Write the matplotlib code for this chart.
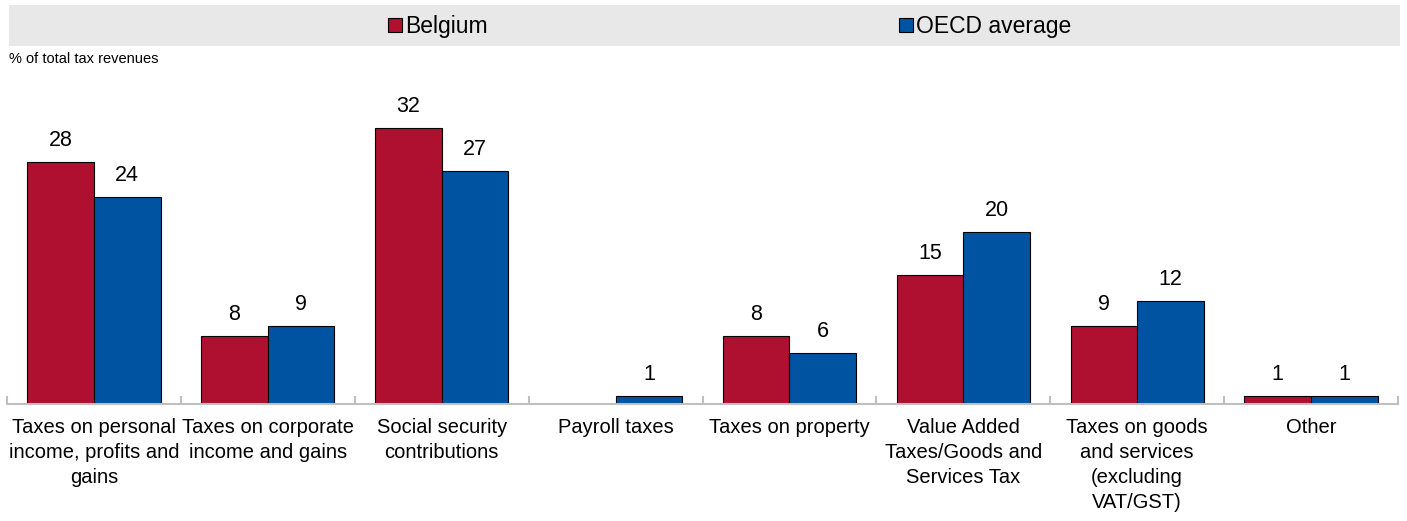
import matplotlib
matplotlib.use("Agg")
import matplotlib.pyplot as plt
from matplotlib.patches import Rectangle
import numpy as np

categories = ["Taxes on personal\nincome, profits and\ngains",
              "Taxes on corporate\nincome and gains",
              "Social security\ncontributions",
              "Payroll taxes",
              "Taxes on property",
              "Value Added\nTaxes/Goods and\nServices Tax",
              "Taxes on goods\nand services\n(excluding\nVAT/GST)",
              "Other"]
belgium = [28.0, 7.9, 32.0, 0.0, 7.9, 14.9, 9.0, 0.9]
oecd = [24.0, 9.0, 27.0, 0.9, 5.9, 19.9, 11.9, 0.9]
belgium_labels = ["28", "8", "32", "", "8", "15", "9", "1"]
oecd_labels = ["24", "9", "27", "1", "6", "20", "12", "1"]

plt.rcParams['font.family'] = ['Liberation Sans Narrow', 'Liberation Sans', 'DejaVu Sans']

W, H = 1407, 521
fig = plt.figure(figsize=(W/100, H/100), dpi=100)
left, right, bottom, top_px = 7, 1398, 404, 102
ax = fig.add_axes([left/W, (H-bottom)/H, (right-left)/W, (bottom-top_px)/H])

red = "#B0102F"
blue = "#0053A1"
x = np.arange(len(categories))
bw = 0.383
ax.bar(x - bw/2, belgium, bw, color=red, edgecolor="black", linewidth=0.8)
ax.bar(x + bw/2, oecd, bw, color=blue, edgecolor="black", linewidth=0.8)

for xi, v, lab in zip(x, belgium, belgium_labels):
    if lab:
        ax.text(xi - bw/2, v + 1.3, lab, ha="center", va="bottom", fontsize=15.5, clip_on=False)
for xi, v, lab in zip(x, oecd, oecd_labels):
    if lab:
        ax.text(xi + bw/2, v + 1.3, lab, ha="center", va="bottom", fontsize=15.5, clip_on=False)

ax.set_xlim(-0.5, len(categories) - 0.5)
ax.set_ylim(0, 35)
for s in ["top", "right", "left"]:
    ax.spines[s].set_visible(False)
ax.spines["bottom"].set_color("#BFBFBF")
ax.spines["bottom"].set_linewidth(1.5)
ax.set_yticks([])
ax.set_xticks(np.arange(len(categories) + 1) - 0.5)
ax.set_xticklabels([])
ax.tick_params(axis="x", direction="in", length=6, color="#BFBFBF", width=1.5)
ax.set_xticks(x, minor=True)
ax.set_xticklabels(categories, minor=True, fontsize=14.5, linespacing=1.4)
ax.tick_params(axis="x", which="minor", length=0, pad=10)

# legend band
fig.add_artist(Rectangle((9/W, (H-46)/H), (1400-9)/W, 41/H, transform=fig.transFigure,
                         facecolor="#E8E8E8", edgecolor="none"))
for mx, col, lab in [(388, red, "Belgium"), (899, blue, "OECD average")]:
    fig.add_artist(Rectangle((mx/W, (H-32)/H), 14/W, 14/H, transform=fig.transFigure,
                             facecolor=col, edgecolor="black", linewidth=0.8))
    fig.text((mx+17)/W, (H-26)/H, lab, ha="left", va="center", fontsize=16.5)

fig.text(9/W, (H-59)/H, "% of total tax revenues", ha="left", va="center", fontsize=10.5)

fig.savefig("out.png", dpi=100)
